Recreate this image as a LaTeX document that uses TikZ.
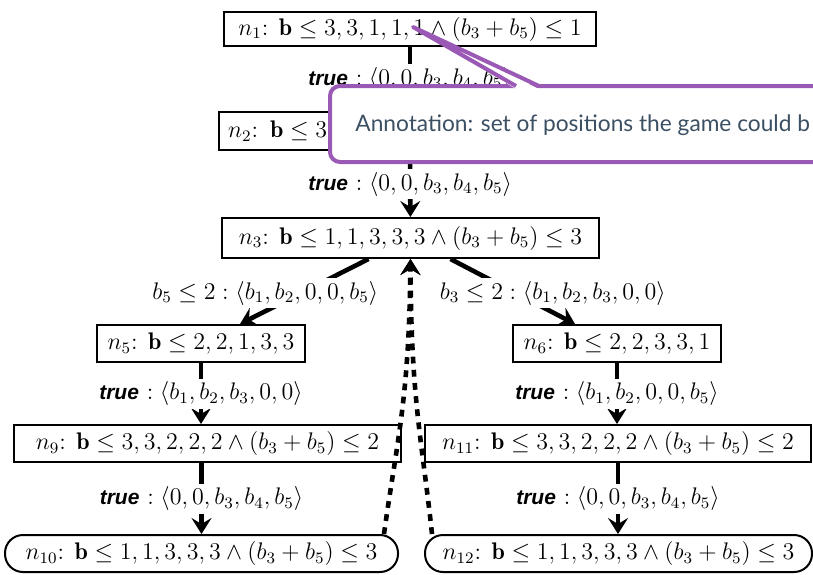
\documentclass[tikz,border=0pt]{standalone}
\usepackage{fontspec}
\usepackage{amsmath}
\usetikzlibrary{arrows.meta,calc}
\newfontfamily\truefont{Liberation Sans}
\newfontfamily\annfont{Lato}
\definecolor{annpurple}{HTML}{9B59B6}
\definecolor{anntext}{HTML}{3C5064}
\newcommand{\tru}{{\truefont\fontsize{10.5}{12}\selectfont\bfseries\itshape true}}
\begin{document}
\begin{tikzpicture}[x=0.5pt,y=-0.5pt,
  nbox/.style={draw,line width=1pt,inner sep=0pt,minimum height=18.5pt,font=\fontsize{12}{14}\selectfont},
  rbox/.style={nbox,rounded corners=9pt},
  conn/.style={line width=2.3pt,-{Stealth[length=8pt,width=10pt,inset=3pt]}},
  backconn/.style={conn,dash pattern=on 3.4pt off 3.2pt},
  lbl/.style={fill=white,inner sep=1.5pt,font=\fontsize{12}{14}\selectfont},
  annline/.style={draw=annpurple,line width=2pt}]
\useasboundingbox (0,0) rectangle (813,574);
% nodes
\node[nbox,minimum width=186pt,minimum height=17pt] (n1) at (410,29) {$n_1$: $\mathbf{b} \le 3,3,1,1,1 \wedge (b_3+b_5) \le 1$};
\node[nbox,minimum height=19pt,inner xsep=4.5pt,text width=183pt,align=left,anchor=west] (n2) at (218,131) {$n_2$: $\mathbf{b} \le 3$};
\node[nbox,minimum width=188.5pt,minimum height=20pt] (n3) at (410.5,238) {$n_3$: $\mathbf{b} \le 1,1,3,3,3 \wedge (b_3+b_5) \le 3$};
\node[nbox,minimum width=104pt] (n5) at (201,343.5) {$n_5$: $\mathbf{b} \le 2,2,1,3,3$};
\node[nbox,minimum width=104pt] (n6) at (617,343.5) {$n_6$: $\mathbf{b} \le 2,2,3,3,1$};
\node[nbox,minimum width=193.5pt] (n9) at (207.5,443.5) {$n_9$: $\mathbf{b} \le 3,3,2,2,2 \wedge (b_3+b_5) \le 2$};
\node[rbox,minimum width=196.5pt] (n10) at (201.5,553.5) {$n_{10}$: $\mathbf{b} \le 1,1,3,3,3 \wedge (b_3+b_5) \le 3$};
\node[nbox,minimum width=193pt] (n11) at (618,443.5) {$n_{11}$: $\mathbf{b} \le 3,3,2,2,2 \wedge (b_3+b_5) \le 2$};
\node[rbox,minimum width=193.5pt] (n12) at (618.5,553.5) {$n_{12}$: $\mathbf{b} \le 1,1,3,3,3 \wedge (b_3+b_5) \le 3$};
% edges
\draw[conn] (n1) -- node[lbl]{\tru{} $: \langle 0,0,b_3,b_4,b_5\rangle$} (n1.south |- n2.north);
\draw[conn] (n1.south |- n2.south) -- node[lbl]{\tru{} $: \langle 0,0,b_3,b_4,b_5\rangle$} (n3);
\draw[conn] ([xshift=-21pt]n3.south) -- node[lbl,xshift=-19.5pt,yshift=-0.75pt]{$b_5 \le 2 : \langle b_1,b_2,0,0,b_5\rangle$} ([xshift=19.5pt]n5.north);
\draw[conn] ([xshift=20pt]n3.south) -- node[lbl,xshift=20pt,yshift=-0.75pt]{$b_3 \le 2 : \langle b_1,b_2,b_3,0,0\rangle$} ([xshift=-21pt]n6.north);
\draw[conn] (n5.south) -- node[lbl]{\tru{} $: \langle b_1,b_2,b_3,0,0\rangle$} (n5.south |- n9.north);
\draw[conn] (n9.south -| n10.north) -- node[lbl]{\tru{} $: \langle 0,0,b_3,b_4,b_5\rangle$} (n10.north);
\draw[conn] (n6.south) -- node[lbl]{\tru{} $: \langle b_1,b_2,0,0,b_5\rangle$} (n6.south |- n11.north);
\draw[conn] (n11.south) -- node[lbl]{\tru{} $: \langle 0,0,b_3,b_4,b_5\rangle$} (n11.south |- n12.north);
\draw[backconn] ([xshift=-7.5pt]n10.north east) .. controls (397,440) and (409,400) .. (n3.south);
\draw[backconn] ([xshift=4pt]n12.north west) .. controls (422,440) and (411,400) .. (n3.south);
% annotation
\draw[annline,fill=white,rounded corners=5pt] (330,86) rectangle (850,162);
\fill[white] (413,27) -- (516,89) -- (539,89) -- cycle;
\draw[annline,line join=round] (516,86) -- (413,27) -- (539,86);
\node[anchor=base west,text=anntext,font=\annfont\fontsize{11.35}{14}\selectfont,inner sep=0pt] (ann) at (355,131) {Annotation: set of positions the game could b};
\end{tikzpicture}
\end{document}
